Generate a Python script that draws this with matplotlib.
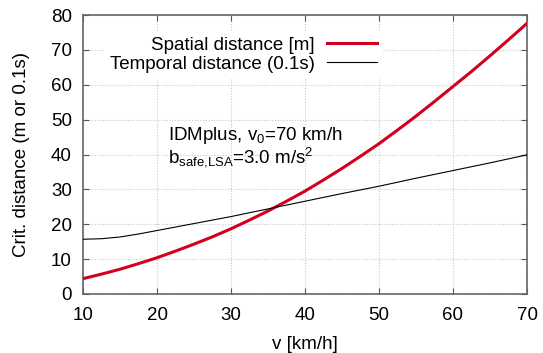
import matplotlib
matplotlib.use("Agg")
import matplotlib.pyplot as plt

plt.rcParams['font.family'] = ['Liberation Sans', 'DejaVu Sans']
plt.rcParams['mathtext.fontset'] = 'custom'
plt.rcParams['mathtext.rm'] = 'Liberation Sans'
plt.rcParams['mathtext.it'] = 'Liberation Sans:italic'

# speed [km/h]
v_spatial = [10, 12.5, 15, 17.5, 20, 22.5, 25, 27.5, 30, 32.5, 35, 37.5, 40,
             42.5, 45, 47.5, 50, 52.5, 55, 57.5, 60, 62.5, 65, 67.5, 70]
spatial = [4.4, 5.7, 7.1, 8.7, 10.4, 12.3, 14.3, 16.4, 18.7, 21.2, 23.8, 26.6, 29.5,
           32.7, 36.0, 39.5, 43.1, 47.0, 51.0, 55.2, 59.5, 63.8, 68.3, 72.9, 77.6]

v_temporal = [10, 12.5, 15, 17.5, 20, 22.5, 25, 27.5, 30, 32.5, 35, 37.5, 40,
              45, 50, 55, 60, 65, 70]
temporal = [15.7, 15.85, 16.35, 17.2, 18.2, 19.2, 20.2, 21.2, 22.2, 23.3, 24.4, 25.5, 26.6,
            28.8, 30.9, 33.2, 35.4, 37.6, 39.9]

x_ticks = [10, 20, 30, 40, 50, 60, 70]
y_ticks = [0, 10, 20, 30, 40, 50, 60, 70, 80]

W, H = 543, 353
fig = plt.figure(figsize=(W / 100, H / 100), dpi=100)
ax = fig.add_axes([83 / W, 1 - 294 / H, 444 / W, 279 / H])

fs = 13.5
ax.plot(v_spatial, spatial, color='#d2001e', lw=2.2, label='Spatial distance [m]', zorder=3)
ax.plot(v_temporal, temporal, color='black', lw=0.8, label='Temporal distance (0.1s)', zorder=3)

ax.set_xlim(10, 70)
ax.set_ylim(0, 80)
ax.set_xticks(x_ticks)
ax.set_yticks(y_ticks)
ax.tick_params(direction='in', length=4, width=0.8, color='#555555',
               top=True, right=True, labelsize=fs)
ax.tick_params(axis='x', pad=9)
ax.tick_params(axis='y', pad=8)
ax.grid(True, color='#c8c8c8', linestyle=(0, (1, 1.5)), linewidth=0.8)
ax.set_axisbelow(True)
for s in ax.spines.values():
    s.set_color('#666666')
    s.set_linewidth(1.2)

ax.set_xlabel('v [km/h]', fontsize=fs, labelpad=9)
ax.set_ylabel('Crit. distance (m or 0.1s)', fontsize=fs, labelpad=15)

leg = ax.legend(loc='upper right', bbox_to_anchor=(383 / W, 1 - 31 / H),
                bbox_transform=fig.transFigure, markerfirst=False,
                fontsize=fs, frameon=True, fancybox=False, framealpha=1,
                edgecolor='none', facecolor='white', handlelength=2.7,
                handletextpad=0.65, labelspacing=0.1, borderpad=0.3,
                borderaxespad=0)
leg.set_zorder(2)
for t in leg.get_texts():
    t.set_ha('right')

ax.text(168 / W, 1 - 135 / H, r'IDMplus, v$_0$=70 km/h', transform=fig.transFigure,
        fontsize=fs, va='center', ha='left')
ax.text(168 / W, 1 - 157 / H, r'b$_{\rm safe{,}LSA}$=3.0 m/s$^2$', transform=fig.transFigure,
        fontsize=fs, va='center', ha='left')

fig.savefig('out.png', dpi=100)
